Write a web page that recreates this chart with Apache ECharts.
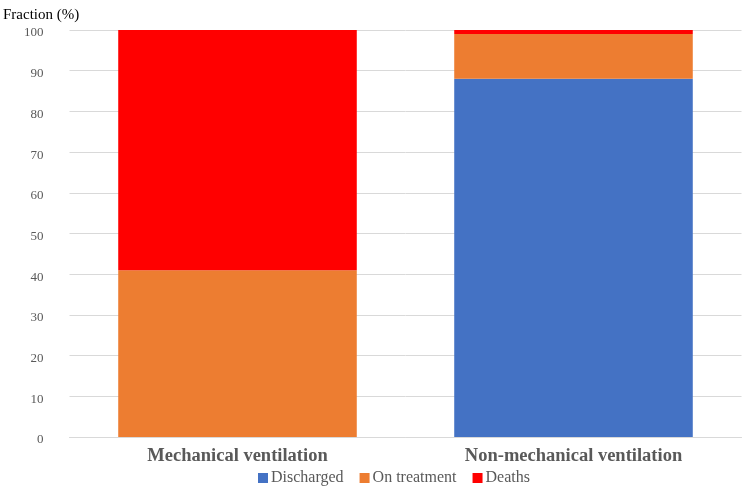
<!DOCTYPE html>
<html><head><meta charset="utf-8">
<script src="https://cdn.jsdelivr.net/npm/echarts@6/dist/echarts.min.js"></script>
<style>html,body{margin:0;padding:0;background:#fff}#c{width:742px;height:496px}</style>
</head><body><div id="c"></div>
<script>
const categories = ['Mechanical ventilation', 'Non-mechanical ventilation'];
const discharged = [0, 88];
const onTreatment = [41, 11];
const deaths = [59, 1];
const yTicks = [0, 10, 20, 30, 40, 50, 60, 70, 80, 90, 100];

const chart = echarts.init(document.getElementById('c'));
const font = 'Liberation Serif, Times New Roman, serif';
function s(name, data, color) {
  return {name, type: 'bar', stack: 'a', data, barWidth: '71%', itemStyle: {color}, emphasis: {disabled: true}};
}
chart.setOption({
  animation: false,
  textStyle: {fontFamily: font},
  title: {text: 'Fraction (%)', left: -2, top: 3, textStyle: {fontFamily: font, fontSize: 15, fontWeight: 'normal', color: '#000'}},
  grid: {left: 69.5, right: 0.5, top: 30, bottom: 59, containLabel: false},
  legend: {left: 253, bottom: 5, itemWidth: 10, itemHeight: 10, itemGap: 16, icon: 'rect',
    textStyle: {fontFamily: font, fontSize: 16, color: '#595959', padding: [0,0,0,-2]},
    data: ['Discharged', 'On treatment', 'Deaths']},
  xAxis: {type: 'category', data: categories,
    axisLine: {lineStyle: {color: '#d9d9d9'}}, axisTick: {show: false},
    axisLabel: {fontFamily: font, fontSize: 18.5, fontWeight: 'bold', color: '#595959', margin: 10}},
  yAxis: {type: 'value', min: yTicks[0], max: yTicks[yTicks.length-1], interval: 10,
    axisLine: {show: false}, axisTick: {show: false},
    splitLine: {lineStyle: {color: '#d9d9d9'}},
    axisLabel: {fontFamily: font, fontSize: 13, color: '#595959', margin: 26, lineHeight: 20, verticalAlign: 'top', padding: [-7,0,0,0]}},
  series: [s('Discharged', discharged, '#4472c4'), s('On treatment', onTreatment, '#ed7d31'), s('Deaths', deaths, '#ff0000')]
});
</script></body></html>
